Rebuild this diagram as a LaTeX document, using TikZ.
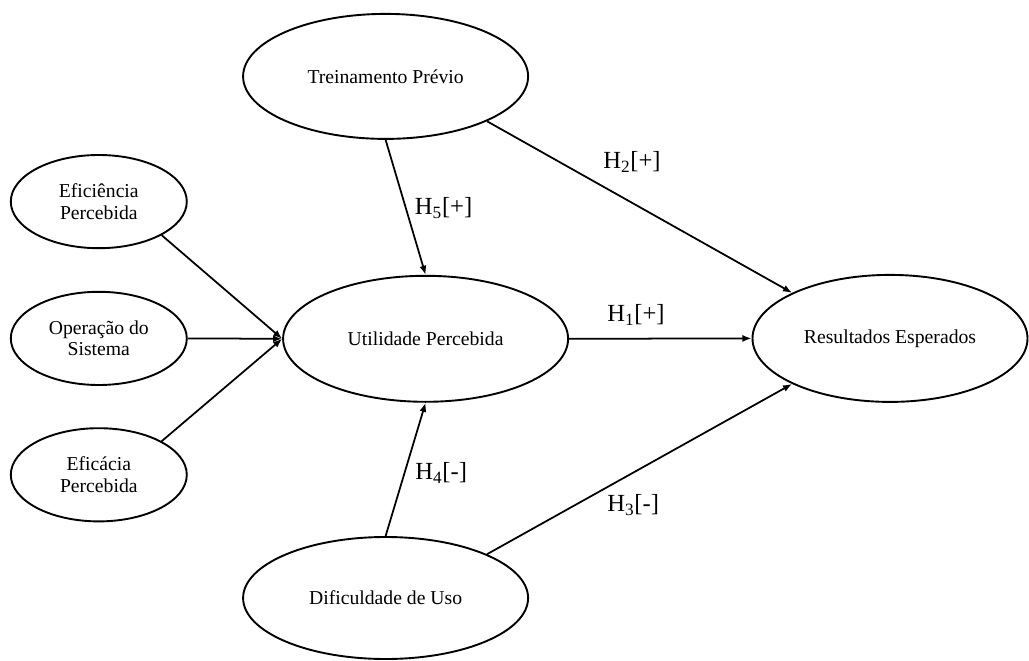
\documentclass[tikz,border=0pt]{standalone}
\usepackage{fontspec}
\setmainfont{Liberation Serif}
\usetikzlibrary{shapes.geometric, arrows.meta}

\begin{document}
\begin{tikzpicture}[
		construct/.style = {ellipse, draw = black, line width = 1.35pt, inner sep = 0pt, align = center, font = \fontsize{14}{15.2}\selectfont},
		side construct/.style = {construct, minimum width = 4.4cm, minimum height = 2.33cm},
		hyp/.style = {font = \fontsize{17.5}{20}\selectfont},
		link/.style = {-{Latex[length = 6.5pt, width = 5pt]}, line width = 1.25pt}
	]
	\useasboundingbox (0, 0) rectangle (25.725, 16.5);
	\node[construct, minimum width = 7.125cm, minimum height = 3.125cm] (T) at (9.64, 14.59) {Treinamento Prévio};
	\node[construct, minimum width = 7.125cm, minimum height = 3.15cm] (U) at (10.64, 8.03) {Utilidade Percebida};
	\node[construct, minimum width = 6.875cm, minimum height = 3.175cm] (R) at (22.25, 8.04) {Resultados Esperados};
	\node[construct, minimum width = 7.125cm, minimum height = 3.05cm] (D) at (9.64, 1.55) {Dificuldade de Uso};
	\node[side construct] (E) at (2.47, 11.46) {Eficiência\\Percebida};
	\node[side construct] (O) at (2.47, 8.04) {Operação do\\Sistema};
	\node[side construct] (A) at (2.47, 4.63) {Eficácia\\Percebida};
	\draw[link] (E.south east) -- (U.west);
	\draw[link] (O.east) -- (U.west);
	\draw[link] (A.north east) -- (U.west);
	\draw[link] (T.south) -- (U.north);
	\draw[link] (D.north) -- (U.south);
	\draw[link] (U.east) -- (R.west);
	\draw[link] (T.south east) -- (R.north west);
	\draw[link] (D.north east) -- (R.south west);
	\node[hyp] (h5) at (11.09, 11.30) {H\textsubscript{5}[+]};
	\node[hyp] (h4) at (11.03, 4.68) {H\textsubscript{4}[-]};
	\node[hyp] (h2) at (15.80, 12.45) {H\textsubscript{2}[+]};
	\node[hyp] (h1) at (15.90, 8.63) {H\textsubscript{1}[+]};
	\node[hyp] (h3) at (15.83, 3.88) {H\textsubscript{3}[-]};
\end{tikzpicture}
\end{document}
